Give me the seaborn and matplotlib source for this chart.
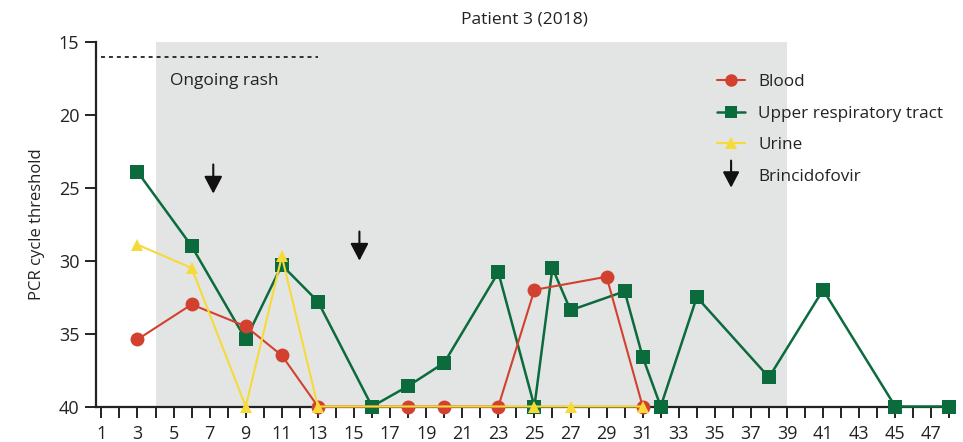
import matplotlib
matplotlib.use("Agg")
import matplotlib.pyplot as plt
import seaborn as sns
import pandas as pd
from matplotlib.lines import Line2D
from matplotlib.legend_handler import HandlerBase
from matplotlib.patches import FancyArrowPatch

# ---- data ----
blood_days = [3, 6, 9, 11, 13, 18, 20, 23, 25, 29, 31]
blood_ct = [35.4, 33.0, 34.5, 36.5, 40, 40, 40, 40, 32.0, 31.1, 40]

urt_days = [3, 6, 9, 11, 13, 16, 18, 20, 23, 25, 26, 27, 30, 31, 32, 34, 38, 41, 45, 48]
urt_ct = [23.9, 29.0, 35.4, 30.3, 32.8, 40, 38.6, 37.0, 30.8, 40, 30.5, 33.4, 32.1,
          36.6, 40, 32.5, 38.0, 32.0, 40, 40]

urine_days = [3, 6, 9, 11, 13, 25, 27, 31]
urine_ct = [28.9, 30.5, 40, 29.7, 40, 40, 40, 40]

brincidofovir_days = [7.2, 15.3]
brincidofovir_tips = [25.4, 30.0]

rash_start, rash_end = 4, 39
x_ticks = list(range(1, 49))
x_labels = [str(d) if d % 2 == 1 else "" for d in x_ticks]
y_ticks = [15, 20, 25, 30, 35, 40]

RED = "#d2412f"
GREEN = "#0b6b3c"
YELLOW = "#f6da3a"
GREY = "#e3e5e4"

sns.set_style("white")
plt.rcParams["font.family"] = ["Open Sans", "DejaVu Sans"]

fig = plt.figure(figsize=(9.63, 4.42), dpi=100)
ax = fig.add_axes([96 / 963, 1 - 406.5 / 442, (953 - 96) / 963, (406.5 - 42) / 442])

ax.axvspan(rash_start, rash_end, ymin=0, ymax=1, color=GREY, lw=0, zorder=0)
ax.plot([1, 13], [16, 16], ls=(0, (2.2, 2.2)), color="#222222", lw=1.3, zorder=1)
ax.text(4.8, 17.7, "Ongoing rash", fontsize=12.5, va="center", ha="left", color="#222222")

df_g = pd.DataFrame({"day": urt_days, "ct": urt_ct})
df_r = pd.DataFrame({"day": blood_days, "ct": blood_ct})
df_y = pd.DataFrame({"day": urine_days, "ct": urine_ct})

sns.lineplot(data=df_g, x="day", y="ct", ax=ax, color=GREEN, marker="s", markersize=9.5,
             markeredgewidth=0, lw=1.8, estimator=None, sort=False, zorder=3, clip_on=False)
sns.lineplot(data=df_r, x="day", y="ct", ax=ax, color=RED, marker="o", markersize=10,
             markeredgewidth=0, lw=1.5, estimator=None, sort=False, zorder=4, clip_on=False)
sns.lineplot(data=df_y, x="day", y="ct", ax=ax, color=YELLOW, marker="^", markersize=9,
             markeredgewidth=0, lw=1.5, estimator=None, sort=False, zorder=5, clip_on=False)

for d, tip in zip(brincidofovir_days, brincidofovir_tips):
    ax.annotate("", xy=(d, tip), xytext=(d, tip - 2.0),
                arrowprops=dict(arrowstyle="-|>,head_length=1.05,head_width=0.55",
                                color="#111111", lw=1.5, shrinkA=0, shrinkB=0,
                                mutation_scale=10), zorder=6)

ax.set_xlim(0.7, 48.2)
ax.set_ylim(40, 15)
ax.set_xticks(x_ticks)
ax.set_xticklabels(x_labels)
ax.set_yticks(y_ticks)
ax.tick_params(axis="both", direction="out", length=8, width=1.4, color="#222222",
               labelsize=13, labelcolor="#222222", pad=4, bottom=True, left=True)
ax.tick_params(axis="x", pad=5)
for s in ["top", "right"]:
    ax.spines[s].set_visible(False)
for s in ["left", "bottom"]:
    ax.spines[s].set_linewidth(1.6)
    ax.spines[s].set_color("#222222")
ax.set_xlabel("")
ax.set_ylabel("PCR cycle threshold", fontsize=12, color="#222222", labelpad=10)
ax.set_title("Patient 3 (2018)", fontsize=12.5, color="#222222", pad=13)
ax.grid(False)


class ArrowHandler(HandlerBase):
    def create_artists(self, legend, orig_handle, xdescent, ydescent, width, height, fontsize, trans):
        xc = width / 2 - xdescent
        yc = height / 2 - ydescent
        arr = FancyArrowPatch((xc, yc + 10.5), (xc, yc - 9.0),
                              arrowstyle="-|>,head_length=0.95,head_width=0.5",
                              color="#111111", lw=1.5, mutation_scale=10,
                              shrinkA=0, shrinkB=0, transform=trans)
        return [arr]


h_blood = Line2D([], [], color=RED, marker="o", markersize=9, markeredgewidth=0, lw=1.5)
h_urt = Line2D([], [], color=GREEN, marker="s", markersize=8.5, markeredgewidth=0, lw=1.8)
h_urine = Line2D([], [], color=YELLOW, marker="^", markersize=8.5, markeredgewidth=0, lw=1.5)
h_arrow = object()
leg = fig.legend([h_blood, h_urt, h_urine, h_arrow],
                 ["Blood", "Upper respiratory tract", "Urine", "Brincidofovir"],
                 handler_map={h_arrow: ArrowHandler()},
                 loc="upper left", bbox_to_anchor=(717 / 963, 1 - 74 / 442),
                 frameon=False, fontsize=12.3, borderpad=0, borderaxespad=0,
                 handlelength=1.65, handletextpad=0.75, labelspacing=0.92)
for t in leg.get_texts():
    t.set_color("#222222")

fig.savefig("out.png", dpi=100)
